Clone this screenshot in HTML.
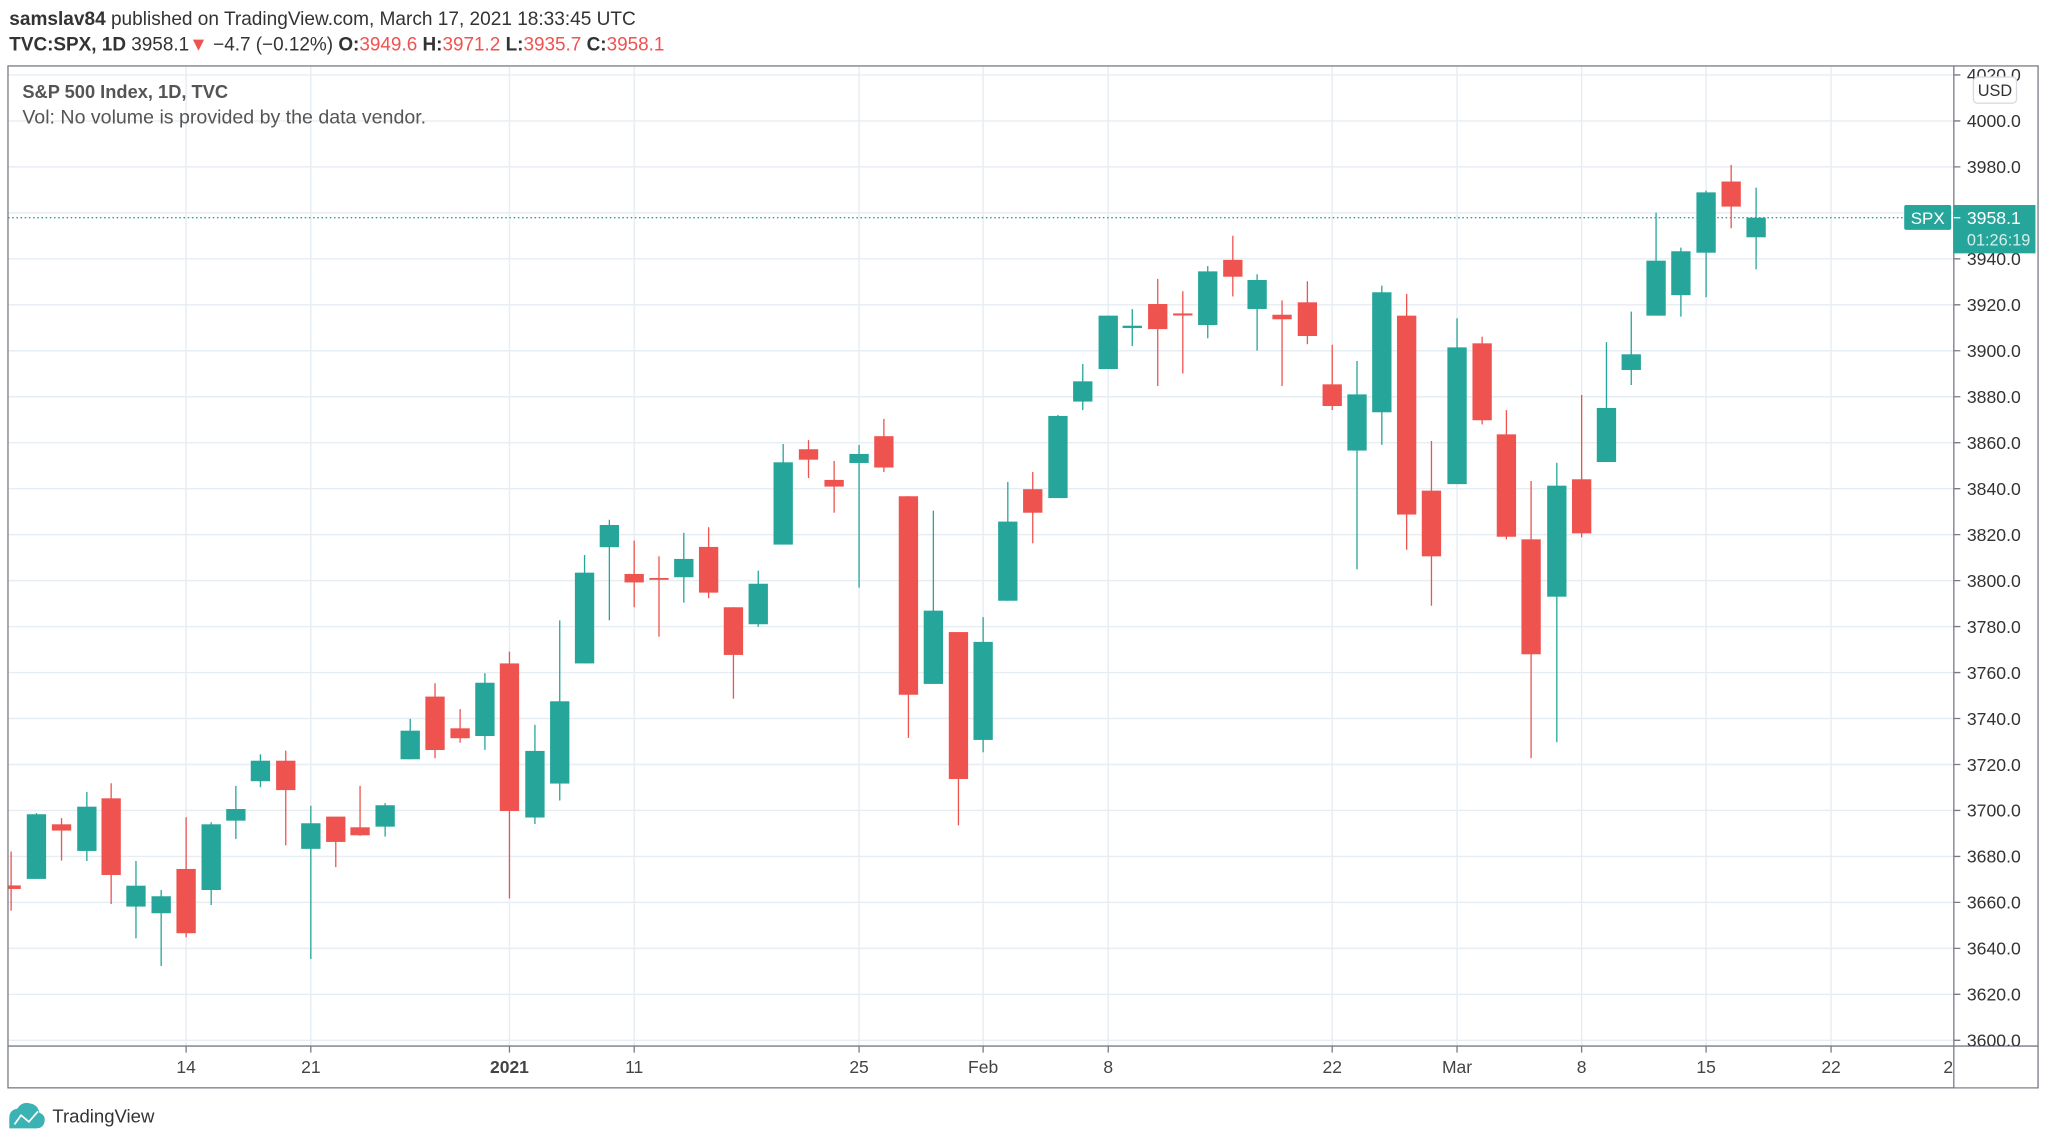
<!DOCTYPE html>
<html><head><meta charset="utf-8"><style>
html,body{margin:0;padding:0;background:#fff;}
svg{display:block;}
text{font-family:"Liberation Sans",sans-serif;}
</style></head><body>
<svg width="2048" height="1144" viewBox="0 0 1568 876" xmlns="http://www.w3.org/2000/svg">
<defs>
<clipPath id="plot"><rect x="6" y="51" width="1490" height="750"/></clipPath>
<clipPath id="axis"><rect x="1496" y="51" width="64" height="750"/></clipPath>
</defs>
<rect width="1568" height="876" fill="#fff"/>
<text x="7" y="19" font-size="14.6" fill="#333"><tspan font-weight="bold">samslav84</tspan> published on TradingView.com, March 17, 2021 18:33:45 UTC</text>
<text x="7" y="38.5" font-size="14.5" fill="#333"><tspan font-weight="bold">TVC:SPX, 1D</tspan>  3958.1<tspan fill="#ef5350">▼</tspan> −4.7 (−0.12%) <tspan font-weight="bold">O:</tspan><tspan fill="#ef5350">3949.6</tspan> <tspan font-weight="bold">H:</tspan><tspan fill="#ef5350">3971.2</tspan> <tspan font-weight="bold">L:</tspan><tspan fill="#ef5350">3935.7</tspan> <tspan font-weight="bold">C:</tspan><tspan fill="#ef5350">3958.1</tspan></text>

<g stroke="#e6edf3" stroke-width="1.1">
<line x1="6" x2="1496" y1="57.4" y2="57.4"/><line x1="6" x2="1496" y1="92.6" y2="92.6"/><line x1="6" x2="1496" y1="127.8" y2="127.8"/><line x1="6" x2="1496" y1="163" y2="163"/><line x1="6" x2="1496" y1="198.2" y2="198.2"/><line x1="6" x2="1496" y1="233.4" y2="233.4"/><line x1="6" x2="1496" y1="268.6" y2="268.6"/><line x1="6" x2="1496" y1="303.8" y2="303.8"/><line x1="6" x2="1496" y1="339" y2="339"/><line x1="6" x2="1496" y1="374.2" y2="374.2"/><line x1="6" x2="1496" y1="409.4" y2="409.4"/><line x1="6" x2="1496" y1="444.6" y2="444.6"/><line x1="6" x2="1496" y1="479.8" y2="479.8"/><line x1="6" x2="1496" y1="515" y2="515"/><line x1="6" x2="1496" y1="550.2" y2="550.2"/><line x1="6" x2="1496" y1="585.4" y2="585.4"/><line x1="6" x2="1496" y1="620.6" y2="620.6"/><line x1="6" x2="1496" y1="655.8" y2="655.8"/><line x1="6" x2="1496" y1="691" y2="691"/><line x1="6" x2="1496" y1="726.2" y2="726.2"/><line x1="6" x2="1496" y1="761.4" y2="761.4"/><line x1="6" x2="1496" y1="796.6" y2="796.6"/>
<line x1="142.4" x2="142.4" y1="51" y2="801"/><line x1="237.9" x2="237.9" y1="51" y2="801"/><line x1="390" x2="390" y1="51" y2="801"/><line x1="485.5" x2="485.5" y1="51" y2="801"/><line x1="657.7" x2="657.7" y1="51" y2="801"/><line x1="752.7" x2="752.7" y1="51" y2="801"/><line x1="848.5" x2="848.5" y1="51" y2="801"/><line x1="1020" x2="1020" y1="51" y2="801"/><line x1="1115.6" x2="1115.6" y1="51" y2="801"/><line x1="1211" x2="1211" y1="51" y2="801"/><line x1="1306.3" x2="1306.3" y1="51" y2="801"/><line x1="1402" x2="1402" y1="51" y2="801"/>
</g>

<text x="17" y="75" font-size="14" font-weight="bold" fill="#555">S&amp;P 500 Index, 1D, TVC</text>
<text x="17" y="94.5" font-size="15" fill="#555">Vol: No volume is provided by the data vendor.</text>

<line x1="6" x2="1458" y1="166.7" y2="166.7" stroke="#26a69a" stroke-width="1" stroke-dasharray="1.2,2"/>

<g clip-path="url(#plot)">
<g stroke="#26a69a" stroke-width="1">
<line x1="27.8" x2="27.8" y1="622.6" y2="673"/><line x1="66.4" x2="66.4" y1="606.5" y2="659.3"/><line x1="104" x2="104" y1="659.3" y2="718.5"/><line x1="123.3" x2="123.3" y1="681.5" y2="739.7"/><line x1="161.6" x2="161.6" y1="629.6" y2="693"/><line x1="180.5" x2="180.5" y1="601.8" y2="642.4"/><line x1="199.3" x2="199.3" y1="577.6" y2="602.8"/><line x1="237.9" x2="237.9" y1="617" y2="734.3"/><line x1="294.8" x2="294.8" y1="615" y2="640.6"/><line x1="314" x2="314" y1="550.4" y2="581.4"/><line x1="371.2" x2="371.2" y1="515.5" y2="574.2"/><line x1="409.5" x2="409.5" y1="555" y2="631"/><line x1="428.5" x2="428.5" y1="475" y2="613"/><line x1="447.5" x2="447.5" y1="425" y2="508"/><line x1="466.5" x2="466.5" y1="398" y2="475"/><line x1="523.5" x2="523.5" y1="408" y2="461.5"/><line x1="580.5" x2="580.5" y1="437" y2="480"/><line x1="599.6" x2="599.6" y1="340" y2="417"/><line x1="657.7" x2="657.7" y1="340.7" y2="450"/><line x1="714.6" x2="714.6" y1="391" y2="523.7"/><line x1="752.7" x2="752.7" y1="472.6" y2="576"/><line x1="771.6" x2="771.6" y1="369" y2="460"/><line x1="810" x2="810" y1="317.8" y2="381.4"/><line x1="829" x2="829" y1="278.7" y2="314"/><line x1="848.5" x2="848.5" y1="241.7" y2="282.6"/><line x1="866.9" x2="866.9" y1="236.7" y2="265"/><line x1="924.7" x2="924.7" y1="203.7" y2="259"/><line x1="962.5" x2="962.5" y1="210" y2="268.5"/><line x1="1039" x2="1039" y1="276.4" y2="436"/><line x1="1058" x2="1058" y1="218.7" y2="340.7"/><line x1="1115.6" x2="1115.6" y1="243.7" y2="370.7"/><line x1="1192" x2="1192" y1="354.3" y2="568.4"/><line x1="1230" x2="1230" y1="262" y2="353.8"/><line x1="1249" x2="1249" y1="238.6" y2="294.8"/><line x1="1268" x2="1268" y1="162.8" y2="241.7"/><line x1="1287" x2="1287" y1="189.6" y2="242.5"/><line x1="1306.3" x2="1306.3" y1="146" y2="227.6"/><line x1="1344.6" x2="1344.6" y1="143.7" y2="206.2"/>
</g>
<g stroke="#ef5350" stroke-width="1">
<line x1="8.4" x2="8.4" y1="652" y2="697.3"/><line x1="47" x2="47" y1="626.5" y2="659"/><line x1="85" x2="85" y1="599.8" y2="692.2"/><line x1="142.4" x2="142.4" y1="625.8" y2="717.7"/><line x1="218.7" x2="218.7" y1="574.8" y2="647.3"/><line x1="257" x2="257" y1="625.3" y2="664"/><line x1="275.6" x2="275.6" y1="601.8" y2="640"/><line x1="333" x2="333" y1="523.2" y2="580.6"/><line x1="352.2" x2="352.2" y1="543" y2="568.7"/><line x1="390" x2="390" y1="499" y2="688"/><line x1="485.5" x2="485.5" y1="414" y2="465"/><line x1="504.5" x2="504.5" y1="426" y2="487.5"/><line x1="542.5" x2="542.5" y1="403.7" y2="458"/><line x1="561.5" x2="561.5" y1="465" y2="535"/><line x1="619" x2="619" y1="337" y2="366"/><line x1="638.6" x2="638.6" y1="353" y2="392.6"/><line x1="676.7" x2="676.7" y1="320.8" y2="361.5"/><line x1="695.5" x2="695.5" y1="380" y2="565"/><line x1="733.8" x2="733.8" y1="484" y2="632"/><line x1="790.7" x2="790.7" y1="361.4" y2="416"/><line x1="886.4" x2="886.4" y1="213.6" y2="295.6"/><line x1="905.6" x2="905.6" y1="223" y2="286"/><line x1="943.9" x2="943.9" y1="180.5" y2="227"/><line x1="981.6" x2="981.6" y1="230" y2="295.6"/><line x1="1001" x2="1001" y1="215.4" y2="263.6"/><line x1="1020" x2="1020" y1="264" y2="314"/><line x1="1077" x2="1077" y1="225" y2="421"/><line x1="1096" x2="1096" y1="337.7" y2="463.8"/><line x1="1134.8" x2="1134.8" y1="257.8" y2="325"/><line x1="1153.4" x2="1153.4" y1="314" y2="413"/><line x1="1172.3" x2="1172.3" y1="368.3" y2="580.6"/><line x1="1211" x2="1211" y1="302.5" y2="411.4"/><line x1="1325.5" x2="1325.5" y1="126.3" y2="174.8"/>
</g>
<g fill="#26a69a">
<rect x="20.4" y="623.5" width="14.8" height="49.5"/><rect x="59" y="617.7" width="14.8" height="33.9"/><rect x="96.6" y="678.2" width="14.8" height="16"/><rect x="115.9" y="686.3" width="14.8" height="13"/><rect x="154.2" y="631.2" width="14.8" height="50.3"/><rect x="173.1" y="619.5" width="14.8" height="8.9"/><rect x="191.9" y="582.5" width="14.8" height="15.7"/><rect x="230.5" y="630.4" width="14.8" height="19.6"/><rect x="287.4" y="616.6" width="14.8" height="16.4"/><rect x="306.6" y="559.5" width="14.8" height="21.9"/><rect x="363.8" y="522.8" width="14.8" height="40.8"/><rect x="402.1" y="575" width="14.8" height="51"/><rect x="421.1" y="537" width="14.8" height="63"/><rect x="440.1" y="438.5" width="14.8" height="69.5"/><rect x="459.1" y="402" width="14.8" height="17"/><rect x="516.1" y="428" width="14.8" height="14"/><rect x="573.1" y="447" width="14.8" height="31"/><rect x="592.2" y="354" width="14.8" height="63"/><rect x="650.3" y="347.6" width="14.8" height="6.9"/><rect x="707.2" y="467.6" width="14.8" height="56.1"/><rect x="745.3" y="491.5" width="14.8" height="75.1"/><rect x="764.2" y="399.4" width="14.8" height="60.6"/><rect x="802.6" y="318.5" width="14.8" height="62.9"/><rect x="821.6" y="292" width="14.8" height="15.5"/><rect x="841.1" y="241.7" width="14.8" height="40.9"/><rect x="859.5" y="249.4" width="14.8" height="1.8"/><rect x="917.3" y="207.8" width="14.8" height="41.1"/><rect x="955.1" y="214.4" width="14.8" height="22.2"/><rect x="1031.6" y="302" width="14.8" height="43"/><rect x="1050.6" y="223.8" width="14.8" height="91.9"/><rect x="1108.2" y="266" width="14.8" height="104.7"/><rect x="1184.6" y="371.9" width="14.8" height="85"/><rect x="1222.6" y="312.4" width="14.8" height="41.4"/><rect x="1241.6" y="271.3" width="14.8" height="12"/><rect x="1260.6" y="199.6" width="14.8" height="42.1"/><rect x="1279.6" y="192.4" width="14.8" height="33.6"/><rect x="1298.9" y="147.3" width="14.8" height="46.2"/><rect x="1337.2" y="166.7" width="14.8" height="15"/>
</g>
<g fill="#ef5350">
<rect x="1" y="678" width="14.8" height="2.7"/><rect x="39.6" y="631.2" width="14.8" height="4.8"/><rect x="77.6" y="611.3" width="14.8" height="58.7"/><rect x="135" y="665.4" width="14.8" height="49.2"/><rect x="211.3" y="582.5" width="14.8" height="22.5"/><rect x="249.6" y="625.3" width="14.8" height="19.4"/><rect x="268.2" y="633.5" width="14.8" height="6.1"/><rect x="325.6" y="533.4" width="14.8" height="40.9"/><rect x="344.8" y="557.7" width="14.8" height="7.6"/><rect x="382.6" y="508" width="14.8" height="113"/><rect x="478.1" y="439.5" width="14.8" height="6.5"/><rect x="497.1" y="442.6" width="14.8" height="1.4"/><rect x="535.1" y="418.8" width="14.8" height="35"/><rect x="554.1" y="465" width="14.8" height="36.5"/><rect x="611.6" y="344" width="14.8" height="8"/><rect x="631.2" y="367.5" width="14.8" height="5.1"/><rect x="669.3" y="334" width="14.8" height="24"/><rect x="688.1" y="380" width="14.8" height="152"/><rect x="726.4" y="484" width="14.8" height="112.5"/><rect x="783.3" y="374.6" width="14.8" height="18"/><rect x="879" y="232.8" width="14.8" height="19.2"/><rect x="898.2" y="240" width="14.8" height="1.6"/><rect x="936.5" y="199" width="14.8" height="12.9"/><rect x="974.2" y="241" width="14.8" height="3.5"/><rect x="993.6" y="231.5" width="14.8" height="25.8"/><rect x="1012.6" y="294.3" width="14.8" height="16.6"/><rect x="1069.6" y="241.7" width="14.8" height="152.3"/><rect x="1088.6" y="375.7" width="14.8" height="50.3"/><rect x="1127.4" y="262.9" width="14.8" height="58.9"/><rect x="1146" y="332.6" width="14.8" height="78.4"/><rect x="1164.9" y="413" width="14.8" height="88"/><rect x="1203.6" y="367" width="14.8" height="41.4"/><rect x="1318.1" y="139" width="14.8" height="19.2"/>
</g>
</g>

<rect x="6" y="50.5" width="1554.5" height="782.5" fill="none" stroke="#787b86" stroke-width="1"/>
<line x1="1496" x2="1496" y1="50.5" y2="833" stroke="#787b86" stroke-width="1"/>
<line x1="6" x2="1560.5" y1="801" y2="801" stroke="#787b86" stroke-width="1"/>

<g clip-path="url(#axis)" font-size="13.5" fill="#333">
<g stroke="#787b86" stroke-width="1">
<line x1="1496" x2="1501" y1="57.4" y2="57.4"/><line x1="1496" x2="1501" y1="92.6" y2="92.6"/><line x1="1496" x2="1501" y1="127.8" y2="127.8"/><line x1="1496" x2="1501" y1="198.2" y2="198.2"/><line x1="1496" x2="1501" y1="233.4" y2="233.4"/><line x1="1496" x2="1501" y1="268.6" y2="268.6"/><line x1="1496" x2="1501" y1="303.8" y2="303.8"/><line x1="1496" x2="1501" y1="339" y2="339"/><line x1="1496" x2="1501" y1="374.2" y2="374.2"/><line x1="1496" x2="1501" y1="409.4" y2="409.4"/><line x1="1496" x2="1501" y1="444.6" y2="444.6"/><line x1="1496" x2="1501" y1="479.8" y2="479.8"/><line x1="1496" x2="1501" y1="515" y2="515"/><line x1="1496" x2="1501" y1="550.2" y2="550.2"/><line x1="1496" x2="1501" y1="585.4" y2="585.4"/><line x1="1496" x2="1501" y1="620.6" y2="620.6"/><line x1="1496" x2="1501" y1="655.8" y2="655.8"/><line x1="1496" x2="1501" y1="691" y2="691"/><line x1="1496" x2="1501" y1="726.2" y2="726.2"/><line x1="1496" x2="1501" y1="761.4" y2="761.4"/><line x1="1496" x2="1501" y1="796.6" y2="796.6"/>
</g>
<text x="1506" y="62.2">4020.0</text><text x="1506" y="97.4">4000.0</text><text x="1506" y="132.6">3980.0</text><text x="1506" y="203">3940.0</text><text x="1506" y="238.2">3920.0</text><text x="1506" y="273.4">3900.0</text><text x="1506" y="308.6">3880.0</text><text x="1506" y="343.8">3860.0</text><text x="1506" y="379">3840.0</text><text x="1506" y="414.2">3820.0</text><text x="1506" y="449.4">3800.0</text><text x="1506" y="484.6">3780.0</text><text x="1506" y="519.8">3760.0</text><text x="1506" y="555">3740.0</text><text x="1506" y="590.2">3720.0</text><text x="1506" y="625.4">3700.0</text><text x="1506" y="660.6">3680.0</text><text x="1506" y="695.8">3660.0</text><text x="1506" y="731">3640.0</text><text x="1506" y="766.2">3620.0</text><text x="1506" y="801.4">3600.0</text>
</g>
<rect x="1511" y="59" width="33" height="20" rx="3" fill="#fff" stroke="#d8dbe0" stroke-width="1"/>
<text x="1527.5" y="73.5" font-size="12.5" fill="#333" text-anchor="middle">USD</text>

<rect x="1458" y="157" width="36" height="19" rx="1.5" fill="#26a69a"/>
<text x="1476" y="171.5" font-size="13" fill="#fff" text-anchor="middle">SPX</text>
<rect x="1495.5" y="157" width="63" height="37" fill="#26a69a"/>
<line x1="1496" x2="1501" y1="166.7" y2="166.7" stroke="#fff" stroke-width="1"/>
<text x="1506" y="171.5" font-size="13.5" fill="#fff">3958.1</text>
<text x="1506" y="188" font-size="12.5" fill="#d4efec">01:26:19</text>

<g stroke="#787b86" stroke-width="1">
<line x1="142.4" x2="142.4" y1="801" y2="806"/><line x1="237.9" x2="237.9" y1="801" y2="806"/><line x1="390" x2="390" y1="801" y2="806"/><line x1="485.5" x2="485.5" y1="801" y2="806"/><line x1="657.7" x2="657.7" y1="801" y2="806"/><line x1="752.7" x2="752.7" y1="801" y2="806"/><line x1="848.5" x2="848.5" y1="801" y2="806"/><line x1="1020" x2="1020" y1="801" y2="806"/><line x1="1115.6" x2="1115.6" y1="801" y2="806"/><line x1="1211" x2="1211" y1="801" y2="806"/><line x1="1306.3" x2="1306.3" y1="801" y2="806"/><line x1="1402" x2="1402" y1="801" y2="806"/>
</g>
<g font-size="13.4" fill="#444" text-anchor="middle">
<text x="142.4" y="821.5">14</text><text x="237.9" y="821.5">21</text><text x="390" y="821.5" font-weight="bold">2021</text><text x="485.5" y="821.5">11</text><text x="657.7" y="821.5">25</text><text x="752.7" y="821.5">Feb</text><text x="848.5" y="821.5">8</text><text x="1020" y="821.5">22</text><text x="1115.6" y="821.5">Mar</text><text x="1211" y="821.5">8</text><text x="1306.3" y="821.5">15</text><text x="1402" y="821.5">22</text>
</g>
<text x="1488" y="821.5" font-size="13.4" fill="#444">2</text>
<rect x="1496.5" y="806" width="63" height="26.5" fill="#fff"/>

<g fill="#3bb3b4">
<path d="M7,864 L7,856 Q7,850 13,849 Q17,843 23,845 Q29,846 30,852 Q35,854 34,859 Q33,864 28,864 Z"/>
</g>
<polyline points="11,861 16,854 22,859 29,851" fill="none" stroke="#fff" stroke-width="1.3"/>
<text x="40" y="859.5" font-size="14.2" fill="#333">TradingView</text>
</svg>
</body></html>
